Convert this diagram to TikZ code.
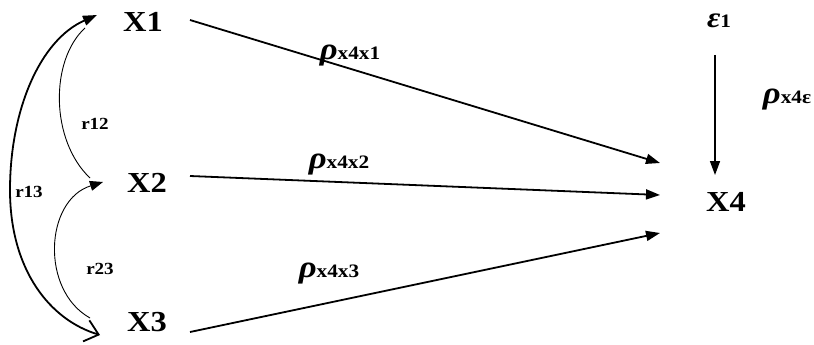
\documentclass[tikz,border=0pt]{standalone}
\usepackage{fontspec}
\newfontfamily\tnr{Liberation Serif}
\usetikzlibrary{arrows.meta,calc}
\newcommand\bigrho{{\tnr\fontsize{31}{31}\selectfont\bfseries\itshape ρ}}
\newcommand\subtxt[1]{{\tnr\fontsize{19}{19}\selectfont\bfseries #1}}
\begin{document}
\begin{tikzpicture}[x=1pt,y=-1pt,
  var/.style={inner sep=0pt,font=\tnr\fontsize{29}{29}\selectfont\bfseries,xscale=1.12,transform shape},
  lab/.style={inner sep=0pt,xscale=1.12,transform shape},
  rlab/.style={inner sep=0pt,font=\tnr\fontsize{17}{17}\selectfont\bfseries,xscale=1.12,transform shape},
  pathar/.style={line width=1.8pt,-{Triangle[length=14pt,width=10pt]}},
  corr/.style={line width=0.9pt}]
\useasboundingbox (0,0) rectangle (814,345);
\node[var] (X1) at (143,22) {X1};
\node[var] (X2) at (147,183) {X2};
\node[var] (X3) at (147,322) {X3};
\node[var] (X4) at (726,202) {X4};
\node[lab] (E) at (719,21) {{\tnr\fontsize{29}{29}\selectfont\bfseries\itshape ε}\subtxt{1}};
% paths to X4
\draw[pathar] ($(X1)+(47,-2)$) -- ($(X4)+(-66,-39)$);
\draw[pathar] ($(X2)+(43,-7)$) -- ($(X4)+(-66,-7)$);
\draw[pathar] ($(X3)+(43,10)$) -- ($(X4)+(-66,31)$);
\draw[line width=1.5pt,-{Triangle[length=14pt,width=10pt]}] ($(E)+(-4,34)$) -- ($(X4)+(-11,-27)$);
% labels
\node[lab] (L1) at (350,56) {\bigrho\subtxt{x4x1}};
\node[lab] (L2) at (339,165) {\bigrho\subtxt{x4x2}};
\node[lab] (L3) at (329,274) {\bigrho\subtxt{x4x3}};
\node[lab] (L4) at (787,100) {\bigrho\subtxt{x4ε}};
% correlations
\draw[line width=1.8pt,{Triangle[length=14pt,width=10pt]}-{Straight Barb[length=13pt,width=22pt]}]
  ($(X1)+(-46,-7)$) .. controls (40,40) and (10,110) .. (10,190)
  .. controls (10,270) and (50,320) .. ($(X3)+(-47,13)$);
\draw[corr] ($(X1)+(-58,6)$) .. controls (50,60) and (50,140) .. ($(X2)+(-57,-5)$);
\draw[corr,-{Triangle[length=13pt,width=10pt]}] ($(X3)+(-57,-4)$) .. controls (40,290) and (45,200) .. ($(X2)+(-44,-1)$);
\node[rlab] (r12) at (95,124) {r12};
\node[rlab] (r23) at (100,269) {r23};
\node[rlab] (r13) at (29,192) {r13};
\end{tikzpicture}
\end{document}
